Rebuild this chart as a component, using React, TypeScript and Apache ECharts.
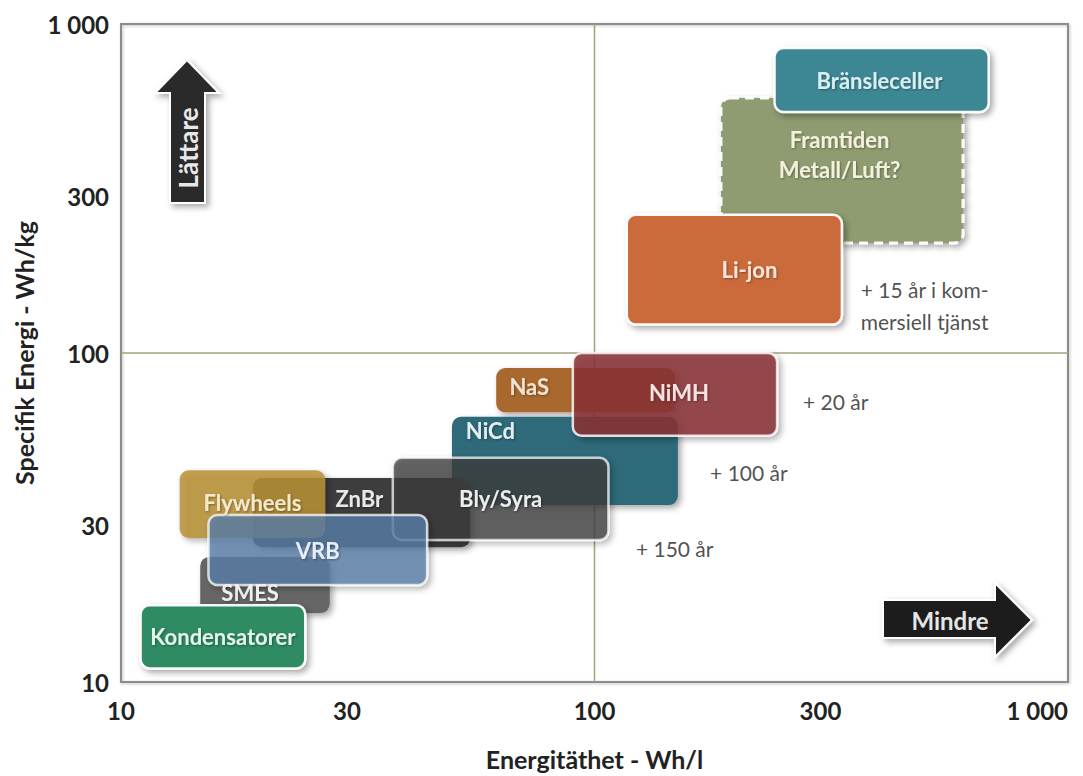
import React, { useEffect, useRef } from "react";
import * as echarts from "echarts";

// ---- data ----
const technologies = [
  "Framtiden\nMetall/Luft?",
  "Bränsleceller",
  "Li-jon",
  "NaS",
  "NiCd",
  "NiMH",
  "ZnBr",
  "Flywheels",
  "Bly/Syra",
  "SMES",
  "VRB",
  "Kondensatorer",
];
// Energitäthet (Wh/l) range
const energyDensityMin = [185, 240, 117, 62, 50, 90, 19, 13.3, 37.5, 14.7, 15.3, 11];
const energyDensityMax = [600, 680, 333, 148, 150, 243, 54.6, 27, 107, 27.6, 44.3, 24.5];
// Specifik energi (Wh/kg) range
const specificEnergyMin = [216, 540, 122, 66, 34.5, 56, 25.7, 27.4, 27, 16.2, 19.7, 11];
const specificEnergyMax = [596, 845, 263, 90, 64, 100, 41.7, 44, 48, 24, 32.2, 17.1];

const annotationTexts = ["+ 15 år i kom-\nmersiell tjänst", "+ 20 år", "+ 100 år", "+ 150 år"];
const annotationX = [364, 275, 175, 122];
const annotationY = [139, 71, 43.2, 25.5];

const xTicks = [10, 30, 100, 300, 1000];
const yTicks = [10, 30, 100, 300, 1000];
const referenceValue = 100;

// ---- styles ----
const white = "rgba(255,255,255,0.95)";
const boxStyles: Record<string, any> = {
  "Framtiden\nMetall/Luft?": { fill: "#8f9c71", opacity: 1, stroke: white, lineWidth: 3, dash: [9, 6], label: [0.49, 0.39], text: "#f3f1de" },
  "Bränsleceller": { fill: "#3d8795", opacity: 1, stroke: white, lineWidth: 2.5, label: [0.49, 0.5], text: "#d9eef0" },
  "Li-jon": { fill: "#cb6a3b", opacity: 1, stroke: white, lineWidth: 2.5, label: [0.57, 0.5], text: "#f6e6da" },
  "NaS": { fill: "#a8682f", opacity: 1, stroke: null, lineWidth: 0, label: [0.185, 0.42], text: "#f0e2d0" },
  "NiCd": { fill: "#2f6b7a", opacity: 1, stroke: null, lineWidth: 0, label: [0.17, 0.16], text: "#e2eef0" },
  "NiMH": { fill: "#8a3437", opacity: 0.85, stroke: white, lineWidth: 2.5, label: [0.52, 0.48], text: "#f4e2e2" },
  "ZnBr": { fill: "#3e3e3e", opacity: 1, stroke: null, lineWidth: 0, label: [0.49, 0.29], text: "#e8e8e8" },
  "Flywheels": { fill: "#b89036", opacity: 0.85, stroke: null, lineWidth: 0, label: [0.5, 0.47], text: "#f4e9cc" },
  "Bly/Syra": { fill: "#3f3f3f", opacity: 0.75, stroke: white, lineWidth: 2.5, label: [0.5, 0.5], text: "#ececec" },
  "SMES": { fill: "#666666", opacity: 1, stroke: null, lineWidth: 0, label: [0.385, 0.64], text: "#efefef" },
  "VRB": { fill: "#5a7fa8", opacity: 0.78, stroke: white, lineWidth: 2.5, label: [0.5, 0.5], text: "#e6eef6" },
  "Kondensatorer": { fill: "#2e8b62", opacity: 1, stroke: white, lineWidth: 2.5, label: [0.5, 0.5], text: "#e4f4ea" },
};

const FONT = "Lato, 'Open Sans', sans-serif";
const fmt = (v: number) => String(Math.round(v)).replace(/\B(?=(\d{3})+(?!\d))/g, " ");

export default function App() {
  const ref = useRef<HTMLDivElement>(null);

  useEffect(() => {
    if (!ref.current) return;
    const chart = echarts.init(ref.current, null, { renderer: "svg" });

    const boxData = technologies.map((_, i) => [
      energyDensityMin[i],
      energyDensityMax[i],
      specificEnergyMin[i],
      specificEnergyMax[i],
    ]);

    const tickLabel = {
      formatter: (v: number) => fmt(v),
      fontFamily: FONT,
      fontWeight: "bold",
      fontSize: 24,
      color: "#222",
    };
    const axisName = { fontFamily: FONT, fontWeight: "bold", fontSize: 25, color: "#222" };

    const option: any = {
      animation: false,
      backgroundColor: "#ffffff",
      grid: {
        left: 121,
        right: 15,
        top: 24,
        bottom: 94,
        outerBoundsMode: "none",
        containLabel: false,
        show: true,
        borderColor: "#8c8c8c",
        borderWidth: 2,
        backgroundColor: "transparent",
        shadowColor: "rgba(0,0,0,0.25)",
        shadowBlur: 3,
        shadowOffsetX: 1,
        shadowOffsetY: 1,
      },
      xAxis: {
        type: "log",
        logBase: 10,
        min: 10,
        max: 1000,
        name: "Energitäthet - Wh/l",
        nameLocation: "middle",
        nameGap: 64,
        nameTextStyle: axisName,
        axisLine: { show: false },
        axisTick: { show: false },
        splitLine: { show: false },
        axisLabel: { ...tickLabel, customValues: xTicks, margin: 16, alignMaxLabel: "right" },
      },
      yAxis: {
        type: "log",
        logBase: 10,
        min: 10,
        max: 1000,
        name: "Specifik Energi - Wh/kg",
        nameLocation: "middle",
        nameGap: 82,
        nameTextStyle: axisName,
        axisLine: { show: false },
        axisTick: { show: false },
        splitLine: { show: false },
        axisLabel: { ...tickLabel, customValues: yTicks, margin: 12 },
      },
      series: [
        {
          type: "line",
          z: 1,
          symbol: "none",
          silent: true,
          lineStyle: { color: "#a4a07a", width: 1.5 },
          data: [
            [referenceValue, 10],
            [referenceValue, 1000],
          ],
        },
        {
          type: "line",
          z: 1,
          symbol: "none",
          silent: true,
          lineStyle: { color: "#a4a07a", width: 1.5 },
          data: [
            [10, referenceValue],
            [1000, referenceValue],
          ],
        },
        {
          type: "custom",
          z: 2,
          encode: { x: [0, 1], y: [2, 3] },
          data: boxData,
          renderItem: (params: any, api: any) => {
            const i = params.dataIndex;
            const name = technologies[i];
            const s = boxStyles[name];
            const tl = api.coord([api.value(0), api.value(3)]);
            const br = api.coord([api.value(1), api.value(2)]);
            const w = br[0] - tl[0];
            const h = br[1] - tl[1];
            return {
              type: "group",
              children: [
                {
                  type: "rect",
                  z2: i,
                  shape: { x: tl[0], y: tl[1], width: w, height: h, r: 9 },
                  style: {
                    fill: s.fill,
                    opacity: s.opacity,
                    stroke: s.stroke || "none",
                    lineWidth: s.lineWidth,
                    lineDash: s.dash || null,
                    shadowBlur: 6,
                    shadowOffsetX: 3,
                    shadowOffsetY: 3,
                    shadowColor: "rgba(0,0,0,0.35)",
                  },
                },
                {
                  type: "text",
                  z2: 100,
                  x: tl[0] + w * s.label[0],
                  y: tl[1] + h * s.label[1],
                  style: {
                    text: name,
                    fill: s.text,
                    fontFamily: FONT,
                    fontWeight: "bold",
                    fontSize: 22,
                    lineHeight: 30,
                    align: "center",
                    verticalAlign: "middle",
                    textShadowColor: "rgba(0,0,0,0.35)",
                    textShadowBlur: 2,
                    textShadowOffsetX: 1,
                    textShadowOffsetY: 1,
                  },
                },
              ],
            };
          },
        },
        {
          type: "scatter",
          z: 3,
          silent: true,
          symbolSize: 1,
          itemStyle: { color: "rgba(0,0,0,0)" },
          data: annotationX.map((x, i) => [x, annotationY[i]]),
          label: {
            show: true,
            position: "right",
            distance: 0,
            formatter: (p: any) => annotationTexts[p.dataIndex],
            fontFamily: FONT,
            fontSize: 21,
            lineHeight: 32,
            color: "#222",
            align: "left",
          },
        },
      ],
      graphic: [
        {
          type: "polygon",
          z: 10,
          shape: {
            points: [
              [187, 60],
              [219, 93],
              [205, 93],
              [205, 203],
              [170, 203],
              [170, 93],
              [155, 93],
            ],
          },
          style: {
            fill: "#2b2b2b",
            stroke: "#ffffff",
            lineWidth: 2,
            shadowBlur: 6,
            shadowOffsetX: 3,
            shadowOffsetY: 3,
            shadowColor: "rgba(0,0,0,0.35)",
          },
        },
        {
          type: "text",
          z: 11,
          x: 188,
          y: 148,
          rotation: Math.PI / 2,
          style: {
            text: "Lättare",
            fill: "#e8e8e8",
            fontFamily: FONT,
            fontWeight: "bold",
            fontSize: 26,
            align: "center",
            verticalAlign: "middle",
          },
        },
        {
          type: "polygon",
          z: 10,
          shape: {
            points: [
              [883, 600],
              [995, 600],
              [995, 583],
              [1032, 620],
              [995, 657],
              [995, 638],
              [883, 638],
            ],
          },
          style: {
            fill: "#1f1f1f",
            stroke: "#ffffff",
            lineWidth: 2,
            shadowBlur: 6,
            shadowOffsetX: 3,
            shadowOffsetY: 3,
            shadowColor: "rgba(0,0,0,0.35)",
          },
        },
        {
          type: "text",
          z: 11,
          x: 950,
          y: 620,
          style: {
            text: "Mindre",
            fill: "#e6e6e6",
            fontFamily: FONT,
            fontWeight: "bold",
            fontSize: 24,
            align: "center",
            verticalAlign: "middle",
          },
        },
      ],
    };

    chart.setOption(option);
    return () => chart.dispose();
  }, []);

  return (
    <div
      ref={ref}
      style={{ position: "fixed", left: 0, top: 0, width: 1083, height: 776, background: "#fff" }}
    />
  );
}
